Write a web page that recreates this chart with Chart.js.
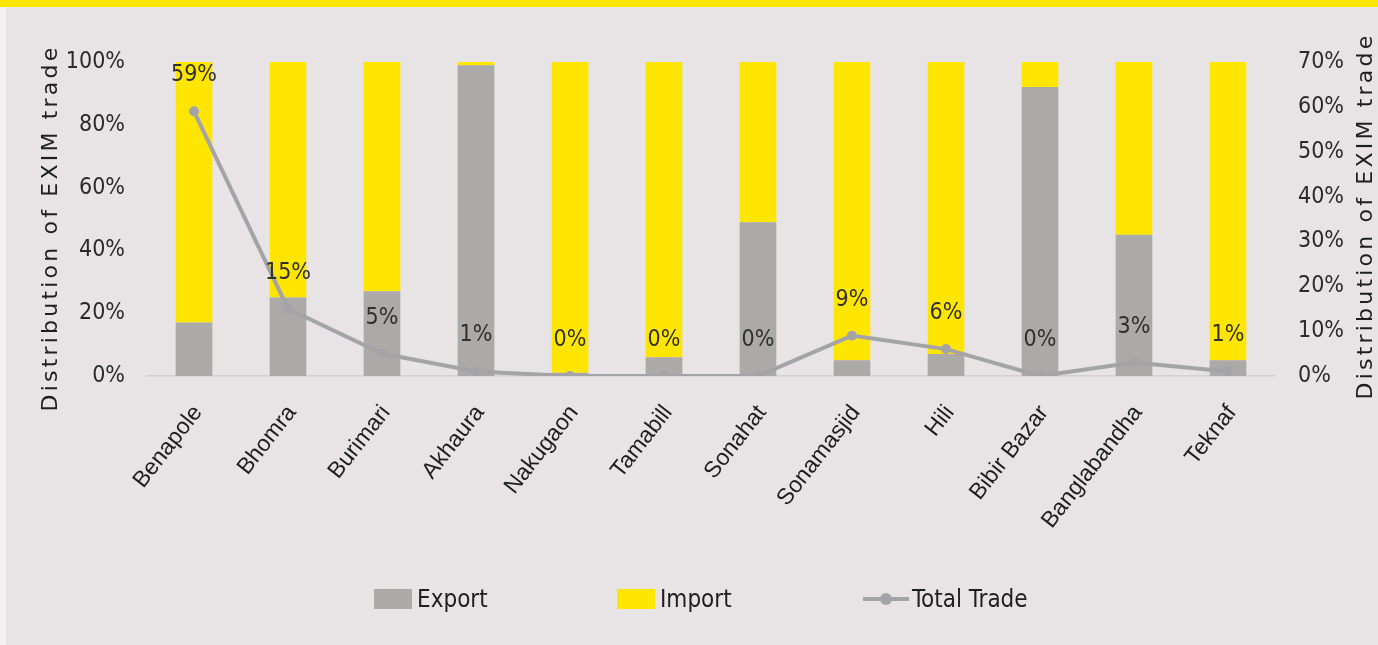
<!DOCTYPE html>
<html>
<head>
<meta charset="utf-8">
<script src="https://cdn.jsdelivr.net/npm/chart.js@4.4.1/dist/chart.umd.min.js"></script>
<style>
  html, body { margin: 0; padding: 0; }
  body { width: 1378px; height: 645px; overflow: hidden; background: #e8e4e5; position: relative; }
  #topband { position: absolute; left: 0; top: 0; width: 1378px; height: 7px; background: #ffe600; }
  #leftedge { position: absolute; left: 0; top: 7px; width: 6px; height: 638px; background: #f2f0f1; }
  #wrap { position: absolute; left: 0; top: 0; width: 1378px; height: 645px; }
  #legend { position: absolute; top: 586px; left: 0; width: 1378px; height: 26px;
            font-family: "Liberation Sans Narrow", "DejaVu Sans Condensed", sans-serif; font-size: 24px; color: #1e1e1e; }
  .item { position: absolute; top: 0; height: 26px; display: flex; align-items: center; }
  .swatch { width: 38px; height: 20px; margin-right: 5px; }
  .lineKey { position: relative; width: 46px; height: 20px; margin-right: 3px; }
  .lineKey .ln { position: absolute; left: 0; top: 8px; width: 46px; height: 4px; background: #a4a3a7; }
  .lineKey .pt { position: absolute; left: 17px; top: 4px; width: 12px; height: 12px; border-radius: 50%; background: #a4a3a7; }
</style>
</head>
<body>
<div id="wrap"><canvas id="chart" width="1378" height="645"></canvas></div>
<div id="topband"></div>
<div id="leftedge"></div>
<div id="legend">
  <div class="item" style="left:374px"><div class="swatch" style="background:#aca9a9"></div><span>Export</span></div>
  <div class="item" style="left:617px"><div class="swatch" style="background:#ffe600"></div><span>Import</span></div>
  <div class="item" style="left:863px"><div class="lineKey"><div class="ln"></div><div class="pt"></div></div><span>Total Trade</span></div>
</div>
<script>
// Land ports and their share of export / import (left axis, %)
const ports = ['Benapole', 'Bhomra', 'Burimari', 'Akhaura', 'Nakugaon', 'Tamabill',
               'Sonahat', 'Sonamasjid', 'Hili', 'Bibir Bazar', 'Banglabandha', 'Teknaf'];
const exportShare = [17, 25, 27, 99, 1, 6, 49, 5, 7, 92, 45, 5];
const importShare = [83, 75, 73, 1, 99, 94, 51, 95, 93, 8, 55, 95];
// Each port's share of total EXIM trade (right axis, %)
const totalTrade = [59, 15, 5, 1, 0, 0, 0, 9, 6, 0, 3, 1];

const leftTicks = [0, 20, 40, 60, 80, 100];
const rightTicks = [0, 10, 20, 30, 40, 50, 60, 70];
const axisTitle = 'Distribution of EXIM trade';

const GREY = '#aca9a9';
const YELLOW = '#ffe600';
const LINE = '#a4a3a7';
const narrow = '"Liberation Sans Narrow", "DejaVu Sans Condensed", sans-serif';

// Percent labels above the Total Trade markers
const valueLabels = {
  id: 'valueLabels',
  afterDatasetsDraw(chart) {
    const meta = chart.getDatasetMeta(2);
    const ctx = chart.ctx;
    ctx.save();
    ctx.font = '23px ' + narrow;
    ctx.fillStyle = '#2f2f2f';
    ctx.textAlign = 'center';
    ctx.textBaseline = 'middle';
    meta.data.forEach((pt, i) => {
      ctx.fillText(totalTrade[i] + '%', pt.x, pt.y - 36);
    });
    ctx.restore();
  }
};

// Rotated axis titles on both sides, both reading bottom to top
const sideTitles = {
  id: 'sideTitles',
  afterDraw(chart) {
    const ctx = chart.ctx;
    [[51, 228], [1366, 216]].forEach(([x, cy]) => {
      ctx.save();
      ctx.translate(x, cy);
      ctx.rotate(-Math.PI / 2);
      ctx.font = '22px "DejaVu Sans", sans-serif';
      ctx.letterSpacing = '3.2px';
      ctx.fillStyle = '#1e1e1e';
      ctx.textAlign = 'center';
      ctx.textBaseline = 'middle';
      ctx.fillText(axisTitle, 0, 0);
      ctx.restore();
    });
  }
};

new Chart(document.getElementById('chart'), {
  type: 'bar',
  data: {
    labels: ports,
    datasets: [
      { label: 'Export', data: exportShare, backgroundColor: GREY, yAxisID: 'y', stack: 's', order: 2,
        barPercentage: 0.39, categoryPercentage: 1 },
      { label: 'Import', data: importShare, backgroundColor: YELLOW, yAxisID: 'y', stack: 's', order: 2,
        barPercentage: 0.39, categoryPercentage: 1 },
      { type: 'line', label: 'Total Trade', data: totalTrade, yAxisID: 'y1', order: 0,
        borderColor: LINE, backgroundColor: LINE, borderWidth: 4, pointRadius: 5,
        pointBackgroundColor: LINE, pointBorderWidth: 0, tension: 0 }
    ]
  },
  options: {
    responsive: false,
    animation: false,
    layout: { padding: { top: 62, left: 0, right: 0, bottom: 0 } },
    plugins: { legend: { display: false }, tooltip: { enabled: false } },
    scales: {
      x: {
        stacked: true,
        grid: { display: false, drawTicks: false },
        border: { display: true, color: '#d3d0d2', width: 1.5 },
        ticks: { minRotation: 52, maxRotation: 52, padding: 24, labelOffset: 4,
                 color: '#1e1e1e', font: { family: '"Liberation Sans", Arial, sans-serif', size: 23 } },
        afterFit(s) { s.height = 645 - 376; }
      },
      y: {
        stacked: true, position: 'left', min: 0, max: 100,
        afterBuildTicks(s) { s.ticks = leftTicks.map(v => ({ value: v })); },
        grid: { display: false, drawTicks: false },
        border: { display: false },
        ticks: { padding: 22, color: '#2a2a2a', font: { family: narrow, size: 23 },
                 callback: v => v + '%' },
        afterFit(s) { s.width = 147; }
      },
      y1: {
        position: 'right', min: 0, max: 70,
        afterBuildTicks(s) { s.ticks = rightTicks.map(v => ({ value: v })); },
        grid: { display: false, drawTicks: false },
        border: { display: false },
        ticks: { padding: 23, color: '#2a2a2a', font: { family: narrow, size: 23 },
                 callback: v => v + '%' },
        afterFit(s) { s.width = 1378 - 1275; }
      }
    }
  },
  plugins: [valueLabels, sideTitles]
});
</script>
</body>
</html>
